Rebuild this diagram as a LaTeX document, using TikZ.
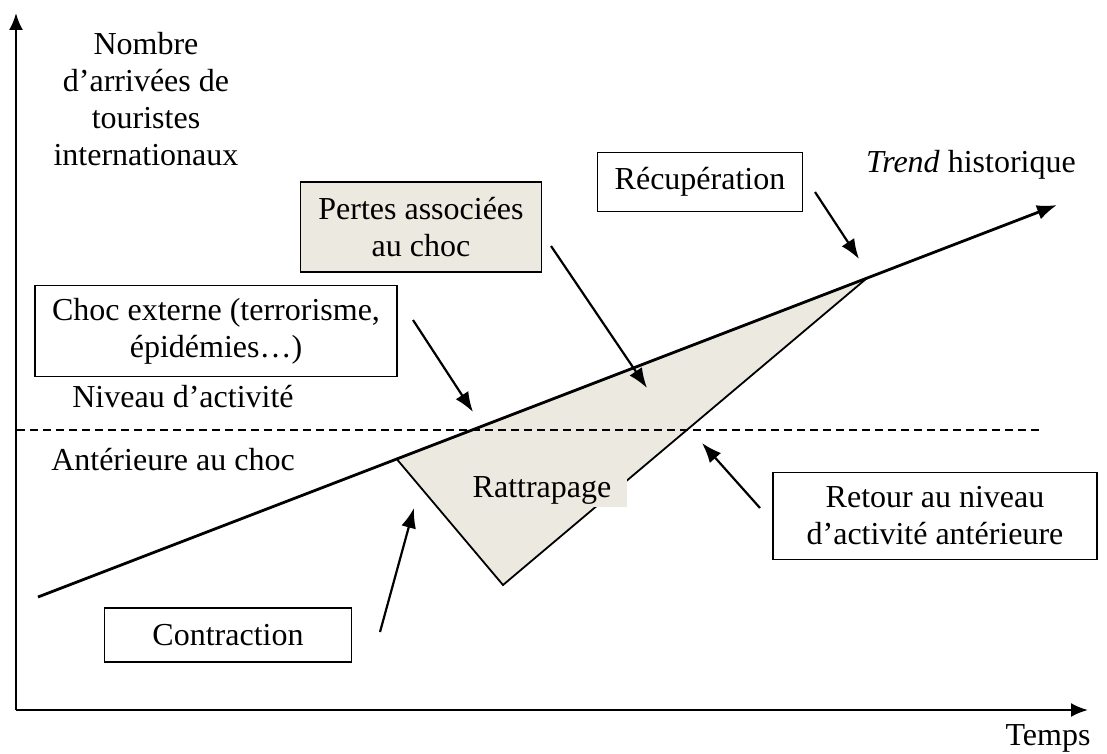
\documentclass[tikz,border=0pt]{standalone}
\usepackage{fontspec}
\setmainfont{Liberation Serif}
\usetikzlibrary{arrows.meta,calc}
\definecolor{beige}{RGB}{236,233,224}
\tikzset{
  boite/.style={draw, line width=1.5pt, align=center, inner sep=0pt},
  fleche/.style={line width=2.2pt, -{Latex[length=20pt,width=15pt]}},
  axe/.style={line width=2.4pt, -{Latex[length=17pt,width=14pt]}},
}

\begin{document}
\begin{tikzpicture}
[x=1pt, y=-1pt, font=\fontsize{32}{37}\selectfont]
\useasboundingbox (0,0) rectangle (1107,754);
\coordinate (origine) at (16,710);
\coordinate (haut) at (16,13);
\coordinate (droite) at (1088,710);
\draw [axe] (origine) -- (haut);
\draw [axe] (origine) -- (droite);
\node [anchor=base, align=center] (nombre) at (146,166) {Nombre\\d’arrivées de\\touristes\\internationaux};
\node [anchor=base] (temps) at (1048,745) {Temps};
\coordinate (debut) at (38,597);
\coordinate (fin) at (1057,205);
\coordinate (choc) at ($(debut)!0.352!(fin)$);
\coordinate (recup) at ($(debut)!0.8135!(fin)$);
\coordinate (creux) at (503,585);
\draw [fill=beige, line width=1.8pt] (choc) -- (creux) -- (recup) -- cycle;
\node [fill=beige, anchor=base, inner xsep=16pt, inner ysep=3pt] (rattrapage) at (542,497) {Rattrapage};
\draw [dash pattern=on 8pt off 5pt, line width=1.4pt] (17,430) -- (1043,430);
\draw [line width=2.8pt, -{Latex[length=20pt,width=15pt]}] (debut) -- (fin);
\node [anchor=base] (niveau) at (183,407) {Niveau d’activité};
\node [anchor=base] (anterieure) at (173,470) {Antérieure au choc};
\node [anchor=base] (trend) at (971,172) {\textit{Trend} historique};
\node [boite, minimum width=362pt, minimum height=91pt] (externe) at (216,331) {Choc externe (terrorisme,\\épidémies…)};
\node [boite, fill=beige, minimum width=241pt, minimum height=90pt] (pertes) at (421,227) {Pertes associées\\au choc};
\node [boite, minimum width=205pt, minimum height=59pt] (recuperation) at (700,182) {Récupération};
\node [boite, minimum width=247pt, minimum height=54pt] (contraction) at (228,635) {Contraction};
\node [boite, minimum width=324pt, minimum height=87pt] (retour) at (935,516) {Retour au niveau\\d’activité antérieure};
\coordinate (a1) at (815,192);
\coordinate (b1) at (859,259);
\coordinate (a2) at (551,246);
\coordinate (b2) at (647,388);
\coordinate (a3) at (413,320);
\coordinate (b3) at (473,412);
\coordinate (a4) at (380,632);
\coordinate (b4) at (414,508);
\coordinate (a5) at (760,508);
\coordinate (b5) at (702,443);
\draw [fleche] (a1) -- (b1);
\draw [fleche] (a2) -- (b2);
\draw [fleche] (a3) -- (b3);
\draw [fleche] (a4) -- (b4);
\draw [fleche] (a5) -- (b5);
\end{tikzpicture}
\end{document}
